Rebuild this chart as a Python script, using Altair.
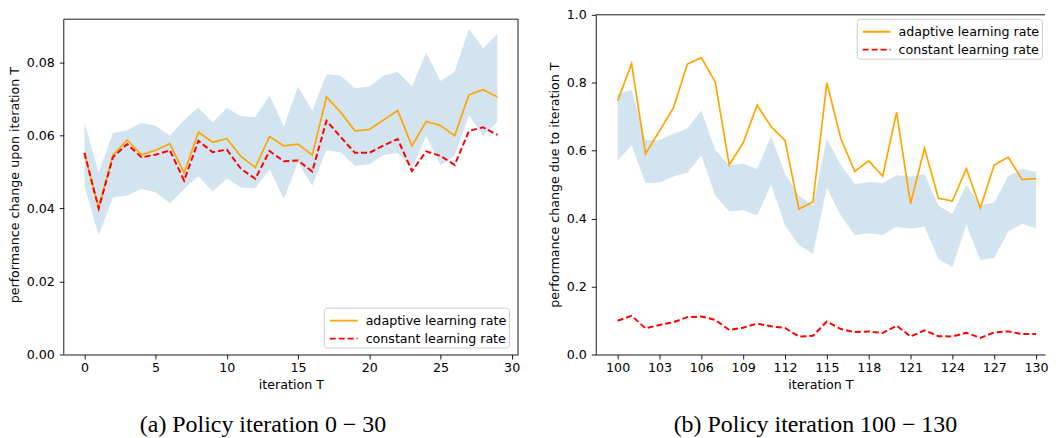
import altair as alt
import pandas as pd

# ---------------- data ----------------
series_names = ["adaptive learning rate", "constant learning rate"]
line_colors = ["orange", "red"]

# panel (a): iterations 0..29
t_a = list(range(0, 30))
adaptive_a = [0.0552, 0.0400, 0.0546, 0.0587, 0.0547, 0.0559, 0.0577, 0.0497, 0.0609, 0.0581,
              0.0591, 0.0542, 0.0512, 0.0597, 0.0571, 0.0576, 0.0546, 0.0705, 0.0663, 0.0612,
              0.0616, 0.0642, 0.0668, 0.0571, 0.0638, 0.0627, 0.0599, 0.0711, 0.0725, 0.0705]
constant_a = [0.0552, 0.0400, 0.0540, 0.0576, 0.0540, 0.0547, 0.0559, 0.0476, 0.0585, 0.0554,
              0.0561, 0.0508, 0.0481, 0.0557, 0.0529, 0.0531, 0.0501, 0.0640, 0.0595, 0.0552,
              0.0552, 0.0572, 0.0590, 0.0502, 0.0556, 0.0544, 0.0519, 0.0612, 0.0622, 0.0601]
upper_a = [0.0633, 0.0499, 0.0606, 0.0614, 0.0634, 0.0626, 0.0599, 0.0642, 0.0676, 0.0635,
           0.0675, 0.0652, 0.0650, 0.0709, 0.0624, 0.0734, 0.0667, 0.0767, 0.0763, 0.0729,
           0.0734, 0.0763, 0.0774, 0.0734, 0.0827, 0.0749, 0.0774, 0.0892, 0.0838, 0.0878]
lower_a = [0.0462, 0.0326, 0.0430, 0.0435, 0.0453, 0.0444, 0.0414, 0.0453, 0.0488, 0.0446,
           0.0482, 0.0457, 0.0455, 0.0508, 0.0426, 0.0526, 0.0462, 0.0560, 0.0553, 0.0517,
           0.0521, 0.0546, 0.0552, 0.0508, 0.0599, 0.0519, 0.0544, 0.0655, 0.0599, 0.0637]

# panel (b): iterations 100..130
t_b = list(range(100, 131))
adaptive_b = [0.747, 0.856, 0.591, 0.658, 0.726, 0.855, 0.874, 0.802, 0.558, 0.623,
              0.734, 0.671, 0.630, 0.428, 0.449, 0.800, 0.636, 0.539, 0.570, 0.525,
              0.713, 0.444, 0.607, 0.460, 0.452, 0.547, 0.431, 0.558, 0.581, 0.515, 0.518]
constant_b = [0.0995, 0.114, 0.077, 0.087, 0.095, 0.110, 0.112, 0.102, 0.072, 0.079,
              0.091, 0.083, 0.078, 0.053, 0.055, 0.097, 0.075, 0.066, 0.068, 0.063,
              0.085, 0.053, 0.071, 0.054, 0.053, 0.064, 0.049, 0.065, 0.068, 0.060, 0.060]
upper_b = [0.766, 0.779, 0.631, 0.631, 0.650, 0.665, 0.718, 0.602, 0.557, 0.562,
           0.546, 0.643, 0.532, 0.467, 0.438, 0.636, 0.558, 0.502, 0.508, 0.505,
           0.528, 0.524, 0.531, 0.438, 0.414, 0.500, 0.440, 0.447, 0.525, 0.547, 0.537]
lower_b = [0.570, 0.616, 0.504, 0.506, 0.524, 0.535, 0.586, 0.467, 0.421, 0.425,
           0.409, 0.500, 0.380, 0.322, 0.296, 0.491, 0.409, 0.351, 0.357, 0.352,
           0.376, 0.370, 0.377, 0.281, 0.257, 0.382, 0.278, 0.285, 0.362, 0.385, 0.372]

ticks_x_a = [0, 5, 10, 15, 20, 25, 30]
ticks_y_a = [0.0, 0.02, 0.04, 0.06, 0.08]
ticks_x_b = list(range(100, 131, 3))
ticks_y_b = [0.0, 0.2, 0.4, 0.6, 0.8, 1.0]

FONT = "DejaVu Sans"
FS = 12.7


def panel(t, adaptive, constant, lower, upper, xdom, ydom, xticks, yticks, yfmt,
          ytitle, caption, cap_dx, legend_x, legend_y, width, height, frame_top,
          left_spine_rule, right_spine):
    lines = pd.DataFrame({
        "t": t + t,
        "value": adaptive + constant,
        "series": [series_names[0]] * len(t) + [series_names[1]] * len(t),
    })
    band = pd.DataFrame({"t": t, "lo": lower, "hi": upper})

    xs = alt.Scale(domain=xdom, nice=False, zero=False)
    ys = alt.Scale(domain=ydom, nice=False, zero=False)
    xax = alt.Axis(values=xticks, title="iteration T", format="d", grid=False,
                   labelFlush=False, labelOverlap=False)
    yax = alt.Axis(values=yticks, title=ytitle, format=yfmt, grid=False,
                   domain=not left_spine_rule, labelOverlap=False)

    legend = alt.Legend(
        title=None, orient="none", legendX=legend_x, legendY=legend_y,
        fillColor="rgba(255,255,255,0.85)", strokeColor="#cccccc", cornerRadius=3,
        padding=2, labelFont=FONT, labelFontSize=FS, labelColor="black",
        symbolType="M-0.7,0L2.1,0", symbolSize=400, symbolStrokeWidth=1.8,
        rowPadding=0, labelOffset=18,
    )
    color = alt.Color("series:N", scale=alt.Scale(domain=series_names, range=line_colors),
                      legend=legend)
    dash = alt.StrokeDash("series:N",
                          scale=alt.Scale(domain=series_names, range=[[1, 0], [6, 3]]),
                          legend=legend)

    area = alt.Chart(band).mark_area(color="#1f77b4", opacity=0.2).encode(
        x=alt.X("t:Q", scale=xs, axis=xax),
        y=alt.Y("lo:Q", scale=ys, axis=yax),
        y2="hi:Q",
    )
    base = alt.Chart(lines).encode(
        x=alt.X("t:Q", scale=xs, axis=xax),
        y=alt.Y("value:Q", scale=ys, axis=yax),
        color=color,
        strokeDash=dash,
    )
    l1 = base.transform_filter(alt.datum.series == series_names[0]).mark_line(strokeWidth=1.7)
    l2 = base.transform_filter(alt.datum.series == series_names[1]).mark_line(strokeWidth=2)

    frame = [
        alt.Chart().mark_rule(color="black", strokeWidth=0.9).encode(
            x=alt.datum(xdom[0]), x2=alt.datum(xdom[1] if not right_spine else right_spine),
            y=alt.datum(frame_top)),
    ]
    if left_spine_rule:
        frame.append(alt.Chart().mark_rule(color="black", strokeWidth=0.9).encode(
            x=alt.datum(xdom[0]), y=alt.datum(0), y2=alt.datum(frame_top)))
    if right_spine:
        frame.append(alt.Chart().mark_rule(color="black", strokeWidth=0.9).encode(
            x=alt.datum(right_spine), y=alt.datum(0), y2=alt.datum(frame_top)))

    return alt.layer(area, l1, l2, *frame).properties(
        width=width, height=height,
        title=alt.TitleParams(caption, orient="bottom", anchor="middle", frame="group",
                              font="Liberation Serif", fontSize=24, fontWeight="normal",
                              color="black", offset=22, dx=cap_dx),
    )


left = panel(t_a, adaptive_a, constant_a, lower_a, upper_a,
             xdom=[-1.45, 30.45], ydom=[0, 0.0930], xticks=ticks_x_a, yticks=ticks_y_a,
             yfmt=".2f", ytitle="performance change upon iteration T",
             caption="(a) Policy iteration 0 \u2212 30", cap_dx=-28,
             legend_x=261, legend_y=294, width=456, height=341, frame_top=0.0918,
             left_spine_rule=True, right_spine=30.45)

right = panel(t_b, adaptive_b, constant_b, lower_b, upper_b,
              xdom=[98.43, 130.64], ydom=[0, 1.0], xticks=ticks_x_b, yticks=ticks_y_b,
              yfmt=".1f", ytitle="performance change due to iteration T",
              caption="(b) Policy iteration 100 \u2212 130", cap_dx=-5,
              legend_x=262, legend_y=4, width=451, height=341, frame_top=1.0,
              left_spine_rule=False, right_spine=None)

chart = alt.hconcat(left, right, spacing=78, bounds="flush").resolve_scale(
    x="independent", y="independent", color="independent", strokeDash="independent"
).resolve_legend(color="independent", strokeDash="independent").configure_view(
    stroke=None
).configure_axis(
    labelFont=FONT, labelFontSize=FS, labelColor="black",
    titleFont=FONT, titleFontSize=FS, titleFontWeight="normal", titleColor="black",
    tickSize=4.5, tickColor="black", tickWidth=0.9, domainColor="black", domainWidth=0.9,
    titlePadding=4,
).configure_axisX(labelPadding=3).configure_axisY(labelPadding=5, titlePadding=5).properties(
    padding={"left": 0, "top": 0, "right": 0, "bottom": 0},
    background="white",
)

chart.save("out.html", embed_options={"renderer": "svg", "actions": False})
